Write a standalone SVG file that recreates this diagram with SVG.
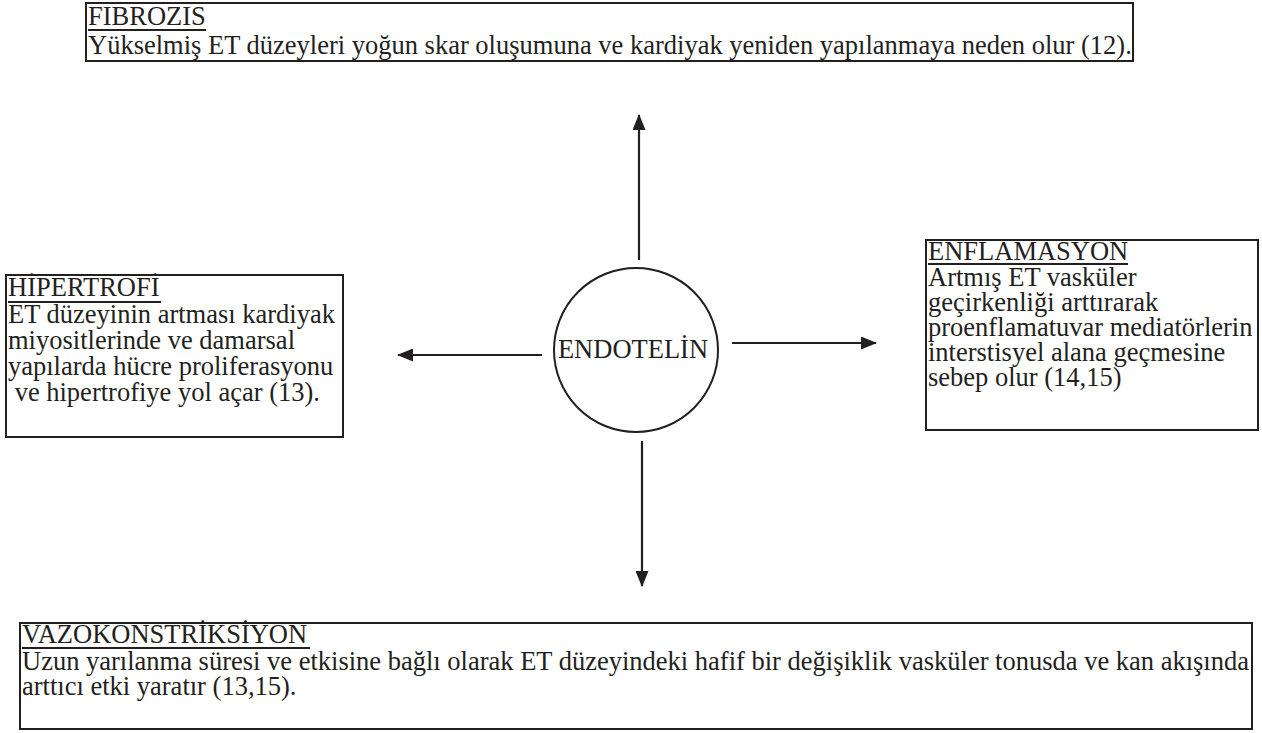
<svg xmlns="http://www.w3.org/2000/svg" width="1262" height="733" viewBox="0 0 1262 733">
  <style>
    .box { fill: #ffffff; stroke: #231f20; stroke-width: 2; }
    .t { font-family: "Liberation Serif", "Times New Roman", serif; font-size: 26.5px; fill: #231f20; }
    .ul { stroke: #231f20; stroke-width: 1.8; }
    .conn { stroke: #231f20; stroke-width: 2.2; fill: none; marker-end: url(#ah); }
  </style>
  <defs>
    <marker id="ah" markerWidth="16" markerHeight="13" refX="15" refY="6.5" orient="auto" markerUnits="userSpaceOnUse">
      <path d="M0,0 L16,6.5 L0,13 Z" fill="#231f20"/>
    </marker>
  </defs>
  <rect width="1262" height="733" fill="#ffffff"/>

  <g id="fibrozis">
    <rect class="box" x="86" y="3" width="1047" height="58"/>
    <text class="t" x="88" y="25">FIBROZIS</text>
    <line class="ul" x1="88" y1="30" x2="206" y2="30"/>
    <text class="t" x="88" y="54">Yükselmiş ET düzeyleri yoğun skar oluşumuna ve kardiyak yeniden yapılanmaya neden olur (12).</text>
  </g>

  <g id="hipertrofi">
    <rect class="box" x="6" y="275" width="337" height="162"/>
    <text class="t" x="8" y="296">HİPERTROFİ</text>
    <line class="ul" x1="8" y1="302" x2="161" y2="302"/>
    <text class="t" x="8" y="323">ET düzeyinin artması kardiyak</text>
    <text class="t" x="8" y="349">miyositlerinde ve damarsal</text>
    <text class="t" x="8" y="375">yapılarda hücre proliferasyonu</text>
    <text class="t" x="8" y="401" xml:space="preserve"> ve hipertrofiye yol açar (13).</text>
  </g>

  <g id="endotelin">
    <circle cx="636" cy="350" r="82" fill="#ffffff" stroke="#231f20" stroke-width="2"/>
    <text class="t" x="633" y="358" text-anchor="middle">ENDOTELİN</text>
  </g>

  <g id="enflamasyon">
    <rect class="box" x="926" y="240" width="332" height="190"/>
    <text class="t" x="928" y="260">ENFLAMASYON</text>
    <line class="ul" x1="928" y1="264" x2="1128" y2="264"/>
    <text class="t" x="928" y="286">Artmış ET vasküler</text>
    <text class="t" x="928" y="311">geçirkenliği arttırarak</text>
    <text class="t" x="928" y="336">proenflamatuvar mediatörlerin</text>
    <text class="t" x="928" y="361">interstisyel alana geçmesine</text>
    <text class="t" x="928" y="386">sebep olur (14,15)</text>
  </g>

  <g id="vazokonstriksiyon">
    <rect class="box" x="20" y="623" width="1232" height="106"/>
    <text class="t" x="22" y="643">VAZOKONSTRİKSİYON</text>
    <line class="ul" x1="22" y1="648" x2="310" y2="648"/>
    <text class="t" x="22" y="670">Uzun yarılanma süresi ve etkisine bağlı olarak ET düzeyindeki hafif bir değişiklik vasküler tonusda ve kan akışında</text>
    <text class="t" x="22" y="695">arttıcı etki yaratır (13,15).</text>
  </g>

  <g id="connectors">
    <line class="conn" x1="639" y1="260" x2="639" y2="115"/>
    <line class="conn" x1="642" y1="441" x2="642" y2="586"/>
    <line class="conn" x1="542" y1="355" x2="398" y2="355"/>
    <line class="conn" x1="732" y1="343" x2="876" y2="343"/>
  </g>
</svg>
